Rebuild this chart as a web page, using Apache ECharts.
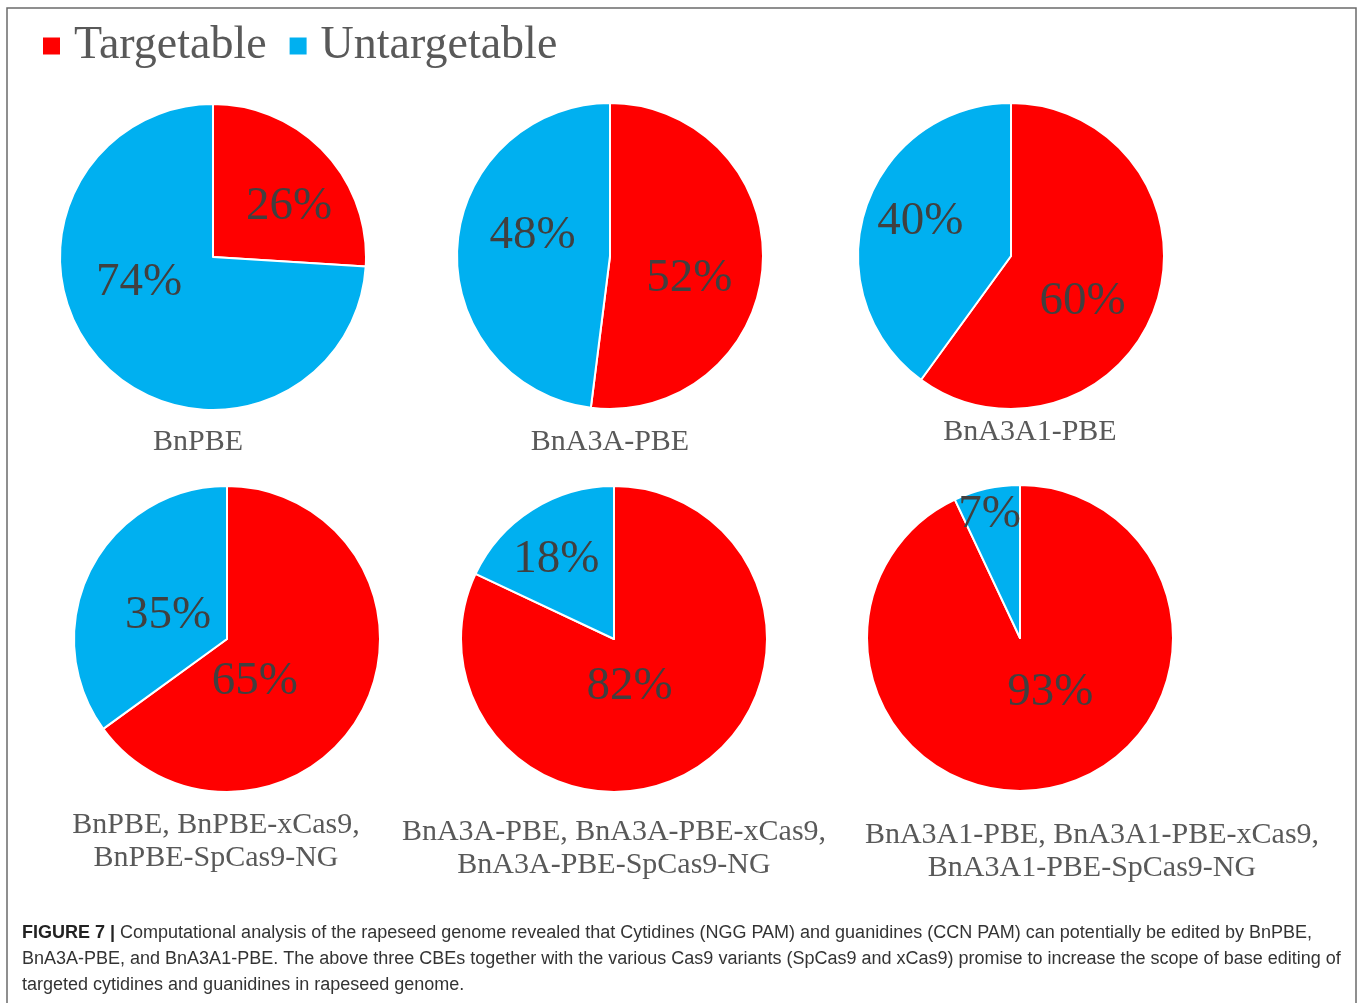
<!DOCTYPE html>
<html>
<head>
<meta charset="utf-8">
<script src="https://cdn.jsdelivr.net/npm/echarts@6/dist/echarts.min.js"></script>
<style>
html,body{margin:0;padding:0;background:#fff;}
#chart{width:1358px;height:1003px;}
</style>
</head>
<body>
<div id="chart"></div>
<script>
// ---- data ----
const seriesNames = ['Targetable', 'Untargetable'];
const groups = [
  'BnPBE',
  'BnA3A-PBE',
  'BnA3A1-PBE',
  'BnPBE, BnPBE-xCas9,\nBnPBE-SpCas9-NG',
  'BnA3A-PBE, BnA3A-PBE-xCas9,\nBnA3A-PBE-SpCas9-NG',
  'BnA3A1-PBE, BnA3A1-PBE-xCas9,\nBnA3A1-PBE-SpCas9-NG'
];
const targetable = [26, 52, 60, 65, 82, 93];
const untargetable = [74, 48, 40, 35, 18, 7];
const captionLines = [
  '{b|FIGURE 7 |} Computational analysis of the rapeseed genome revealed that Cytidines (NGG PAM) and guanidines (CCN PAM) can potentially be edited by BnPBE,',
  'BnA3A-PBE, and BnA3A1-PBE. The above three CBEs together with the various Cas9 variants (SpCas9 and xCas9) promise to increase the scope of base editing of',
  'targeted cytidines and guanidines in rapeseed genome.'
];

// ---- layout / style ----
const colors = ['#FF0000', '#00B0F0'];
const serif = '"Liberation Serif", "Times New Roman", serif';
const sans = '"Liberation Sans", Arial, sans-serif';
const pieCenters = [[213, 257], [610, 256], [1011, 256], [227, 639], [614, 639], [1020, 638]];
const pieRadius = 153;
const groupLabelPos = [[198, 442], [610, 442], [1030, 432], [216, 842], [614, 849], [1092, 852]];
// label offsets from default "inside" position: [targetable, untargetable]
const labelOffsets = [
  [[18, 4], [-16, -29]],
  [[0, 18], [2, -15]],
  [[-4, 21], [-15, -10]],
  [[-43, 7], [12, 13]],
  [[-27, -19], [-15, -12]],
  [[13, -23], [-13, -46]]
];

const chart = echarts.init(document.getElementById('chart'), null, {renderer: 'canvas'});

const series = groups.map((g, i) => ({
  type: 'pie',
  name: g,
  center: pieCenters[i],
  radius: pieRadius,
  startAngle: 90,
  clockwise: true,
  animation: false,
  silent: true,
  itemStyle: {borderColor: '#fff', borderWidth: 2},
  label: {
    show: true,
    position: 'inside',
    formatter: '{c}%',
    fontFamily: serif,
    fontSize: 47,
    color: '#404040'
  },
  labelLine: {show: false},
  labelLayout: function (p) {
    const o = labelOffsets[i][p.dataIndex];
    return {dx: o[0], dy: o[1]};
  },
  data: [
    {name: seriesNames[0], value: targetable[i]},
    {name: seriesNames[1], value: untargetable[i]}
  ]
}));

const graphics = [
  {
    type: 'rect',
    shape: {x: 7, y: 8, width: 1349, height: 1010},
    style: {fill: 'none', stroke: '#6b6b6b', lineWidth: 1.5},
    silent: true
  }
];
groups.forEach((g, i) => {
  graphics.push({
    type: 'text',
    x: groupLabelPos[i][0],
    y: groupLabelPos[i][1],
    silent: true,
    style: {
      text: g,
      fontFamily: serif,
      fontSize: 30,
      fill: '#595959',
      align: 'center',
      verticalAlign: 'middle',
      lineHeight: 33
    }
  });
});
captionLines.forEach((t, k) => {
  graphics.push({
    type: 'text',
    x: 22,
    y: 933 + k * 26,
    silent: true,
    style: {
      text: t,
      fontFamily: sans,
      fontSize: 18,
      fill: '#333',
      align: 'left',
      verticalAlign: 'middle',
      rich: {
        b: {fontWeight: 'bold', fontFamily: sans, fontSize: 18, fill: '#222'}
      }
    }
  });
});

chart.setOption({
  animation: false,
  color: colors,
  legend: {
    data: seriesNames,
    left: 36,
    top: 18,
    icon: 'rect',
    itemWidth: 19,
    itemHeight: 19,
    itemGap: 21,
    selectedMode: false,
    textStyle: {fontFamily: serif, fontSize: 46, color: '#595959', padding: [0, 0, 0, 8]}
  },
  series: series,
  graphic: graphics
});
</script>
</body>
</html>
